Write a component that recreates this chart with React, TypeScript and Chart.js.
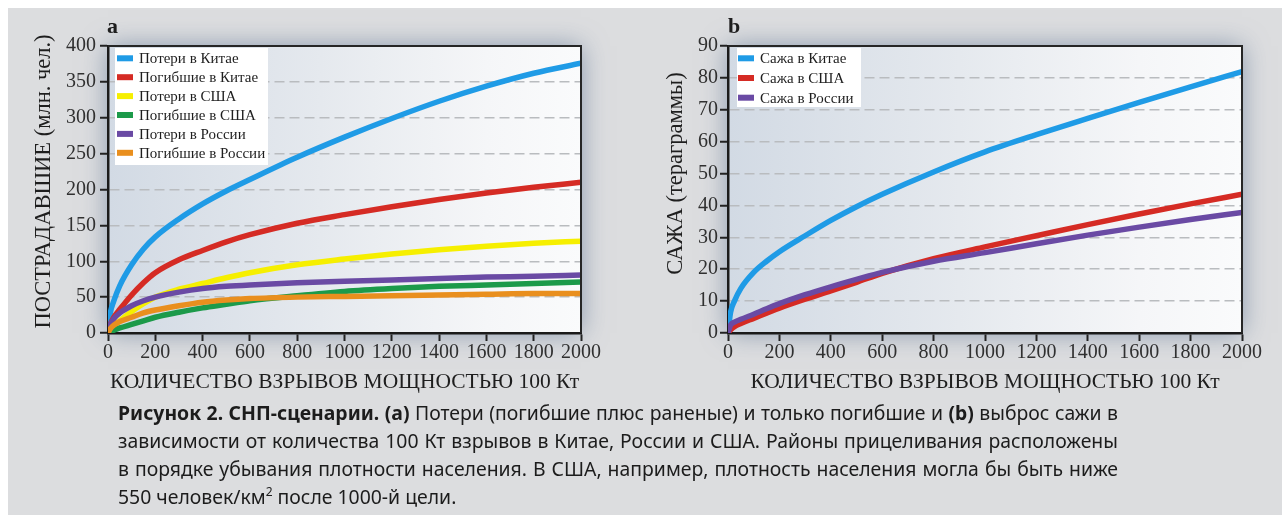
import React, { useEffect, useRef } from "react";
import { Chart, registerables } from "chart.js";

Chart.register(...registerables);

// ---------- data ----------
const X_POINTS = [0, 10, 25, 50, 100, 150, 200, 300, 400, 500, 600, 800, 1000, 1200, 1400, 1600, 1800, 2000];
const X_TICKS = [0, 200, 400, 600, 800, 1000, 1200, 1400, 1600, 1800, 2000];
const Y_TICKS_A = [0, 50, 100, 150, 200, 250, 300, 350, 400];
const Y_TICKS_B = [0, 10, 20, 30, 40, 50, 60, 70, 80, 90];

// Panel a: people affected (millions)
const CHINA_CASUALTIES = [0, 28, 45, 66, 95, 117, 134, 159, 180, 198, 214, 245, 273, 299, 323, 344, 362, 376];
const CHINA_FATALITIES = [0, 12, 22, 33, 53, 70, 84, 102, 115, 127, 137, 153, 165, 176, 186, 195, 203, 210];
const USA_CASUALTIES = [0, 4, 9, 17, 30, 41, 50, 61, 69, 77, 84, 95, 103, 110, 116, 121, 125, 128];
const USA_FATALITIES = [0, 2, 4, 7, 12, 17, 22, 29, 35, 40, 45, 52, 58, 62, 65, 67, 69, 71];
const RUSSIA_CASUALTIES = [0, 12, 20, 28, 38, 45, 50, 57, 62, 65, 67, 70, 72, 74, 76, 78, 79, 81];
const RUSSIA_FATALITIES = [0, 6, 11, 16, 22, 28, 32, 38, 43, 46, 48, 50, 51, 52, 53, 54, 55, 55];

// Panel b: soot (teragrams)
const CHINA_SOOT = [0, 6.5, 10, 14, 19, 22.5, 25.5, 30.5, 35.3, 39.6, 43.5, 50.5, 56.8, 62.2, 67.3, 72.3, 77.2, 82];
const USA_SOOT = [0, 1, 2, 3, 4.6, 6.2, 7.8, 10.6, 13.2, 15.9, 18.7, 23.3, 27, 30.5, 34, 37.3, 40.5, 43.5];
const RUSSIA_SOOT = [0, 2.5, 3.4, 4.3, 5.9, 7.6, 9.2, 12, 14.5, 16.8, 19, 22.5, 25.2, 28, 30.7, 33.2, 35.6, 37.8];

const LABELS_A = ["Потери в Китае", "Погибшие в Китае", "Потери в США", "Погибшие в США", "Потери в России", "Погибшие в России"];
const SERIES_A = [CHINA_CASUALTIES, CHINA_FATALITIES, USA_CASUALTIES, USA_FATALITIES, RUSSIA_CASUALTIES, RUSSIA_FATALITIES];
const COLORS_A = ["#1f9be6", "#d52b24", "#f6ef00", "#1c9a4a", "#6a4aa4", "#e98f1e"];

const LABELS_B = ["Сажа в Китае", "Сажа в США", "Сажа в России"];
const SERIES_B = [CHINA_SOOT, USA_SOOT, RUSSIA_SOOT];
const COLORS_B = ["#1f9be6", "#d52b24", "#6a4aa4"];

const X_TITLE = "КОЛИЧЕСТВО ВЗРЫВОВ МОЩНОСТЬЮ 100 Кт";
const Y_TITLE_A = "ПОСТРАДАВШИЕ (млн. чел.)";
const Y_TITLE_B = "САЖА (тераграммы)";

const SERIF = "'Liberation Serif', 'Times New Roman', serif";

type Cfg = {
  key: string;
  letter: string;
  letterX: number;
  yTitle: string;
  yTitleX: number;
  yTitleY: number;
  legendBox: [number, number, number, number];
  swatchX: number;
  textX: number;
  rowY0: number;
  rowStep: number;
};

function decorPlugin(cfg: Cfg) {
  return {
    id: "decor" + cfg.key,
    beforeDraw(chart: any) {
      const { ctx, chartArea: a } = chart;
      ctx.save();
      const g = ctx.createLinearGradient(a.left, 0, a.right, 0);
      g.addColorStop(0, "#d2dae4");
      g.addColorStop(0.45, "#e5e9ee");
      g.addColorStop(0.8, "#f5f6f8");
      g.addColorStop(1, "#fafbfc");
      ctx.shadowColor = "rgba(80,105,140,0.6)";
      ctx.shadowBlur = 24;
      ctx.fillStyle = g;
      ctx.fillRect(a.left, a.top, a.right - a.left, a.bottom - a.top);
      ctx.restore();
    },
    afterDatasetsDraw(chart: any) {
      const { ctx, chartArea: a } = chart;
      ctx.save();
      ctx.strokeStyle = "#262626";
      ctx.lineWidth = 2;
      ctx.beginPath();
      ctx.moveTo(a.left, a.top);
      ctx.lineTo(a.right, a.top);
      ctx.lineTo(a.right, a.bottom);
      ctx.stroke();
      const [bx, by, bw, bh] = cfg.legendBox;
      ctx.fillStyle = "#ffffff";
      ctx.fillRect(bx, by, bw, bh);
      ctx.font = `15px ${SERIF}`;
      ctx.textBaseline = "middle";
      ctx.textAlign = "left";
      chart.data.datasets.forEach((ds: any, i: number) => {
        const cy = cfg.rowY0 + i * cfg.rowStep;
        ctx.fillStyle = ds.borderColor;
        ctx.fillRect(cfg.swatchX, cy - 3, 16, 6);
        ctx.fillStyle = "#1e1e1e";
        ctx.fillText(ds.label, cfg.textX, cy + 1);
      });
      ctx.restore();
    },
    afterDraw(chart: any) {
      const { ctx } = chart;
      ctx.save();
      ctx.fillStyle = "#1e1e1e";
      ctx.font = `22.5px ${SERIF}`;
      ctx.textAlign = "center";
      ctx.textBaseline = "middle";
      ctx.translate(cfg.yTitleX, cfg.yTitleY);
      ctx.rotate(-Math.PI / 2);
      ctx.fillText(cfg.yTitle, 0, 0);
      ctx.restore();
      ctx.save();
      ctx.fillStyle = "#1e1e1e";
      ctx.font = `bold 22px ${SERIF}`;
      ctx.textAlign = "left";
      ctx.textBaseline = "alphabetic";
      ctx.fillText(cfg.letter, cfg.letterX, 25);
      ctx.restore();
    },
  };
}

function buildConfig(
  labels: string[],
  series: number[][],
  colors: string[],
  yTicks: number[],
  padRight: number,
  yPad: number,
  cfg: Cfg
): any {
  const n = series.length;
  return {
    type: "line",
    data: {
      datasets: series.map((s, i) => ({
        label: labels[i],
        data: s.map((v, j) => ({ x: X_POINTS[j], y: v })),
        borderColor: colors[i],
        backgroundColor: colors[i],
        borderWidth: 5.5,
        pointRadius: 0,
        cubicInterpolationMode: "monotone",
        fill: false,
        order: n - i,
      })),
    },
    options: {
      responsive: false,
      animation: false,
      devicePixelRatio: 1,
      layout: { padding: { left: 0, top: 38, right: padRight, bottom: 0 } },
      plugins: { legend: { display: false }, tooltip: { enabled: false }, title: { display: false } },
      scales: {
        x: {
          type: "linear",
          min: 0,
          max: 2000,
          afterBuildTicks: (s: any) => {
            s.ticks = X_TICKS.map((v) => ({ value: v }));
          },
          afterFit: (s: any) => {
            s.height = 75;
          },
          grid: { drawOnChartArea: false, drawTicks: true, tickLength: 8, tickWidth: 2, tickColor: "#222" },
          border: { display: true, color: "#1a1a1a", width: 2.5 },
          ticks: {
            font: { family: SERIF, size: 20 },
            color: "#303030",
            padding: 0,
            maxRotation: 0,
            autoSkip: false,
            callback: (v: any) => String(v),
          },
          title: {
            display: true,
            text: X_TITLE,
            font: { family: SERIF, size: 21.5 },
            color: "#1e1e1e",
            padding: { top: 0, bottom: 13 },
          },
        },
        y: {
          type: "linear",
          min: yTicks[0],
          max: yTicks[yTicks.length - 1],
          afterBuildTicks: (s: any) => {
            s.ticks = yTicks.map((v) => ({ value: v }));
          },
          afterFit: (s: any) => {
            s.width = 100;
          },
          grid: {
            drawOnChartArea: true,
            drawTicks: true,
            tickLength: 8,
            tickWidth: 2,
            tickColor: "#222",
            lineWidth: 1.5,
            color: (c: any) => {
              const v = c.tick && c.tick.value;
              return v === yTicks[0] || v === yTicks[yTicks.length - 1] ? "rgba(0,0,0,0)" : "#b9bcbf";
            },
          },
          border: { display: true, color: "#1a1a1a", width: 2.5, dash: [10, 5] },
          ticks: {
            font: { family: SERIF, size: 20 },
            color: "#303030",
            padding: yPad,
            autoSkip: false,
            callback: (v: any) => String(v),
          },
        },
      },
    },
    plugins: [decorPlugin(cfg)],
  };
}

export default function App() {
  const refA = useRef<HTMLCanvasElement | null>(null);
  const refB = useRef<HTMLCanvasElement | null>(null);

  useEffect(() => {
    const chartA = new Chart(
      refA.current as HTMLCanvasElement,
      buildConfig(LABELS_A, SERIES_A, COLORS_A, Y_TICKS_A, 47, 4, {
        key: "a",
        letter: "a",
        letterX: 99,
        yTitle: Y_TITLE_A,
        yTitleX: 36,
        yTitleY: 173.5,
        legendBox: [107, 40, 153, 117],
        swatchX: 109,
        textX: 131,
        rowY0: 50.3,
        rowStep: 18.9,
      })
    );
    const chartB = new Chart(
      refB.current as HTMLCanvasElement,
      buildConfig(LABELS_B, SERIES_B, COLORS_B, Y_TICKS_B, 40, 2, {
        key: "b",
        letter: "b",
        letterX: 100,
        yTitle: Y_TITLE_B,
        yTitleX: 48,
        yTitleY: 165.5,
        legendBox: [109, 40, 124, 59],
        swatchX: 110,
        textX: 132,
        rowY0: 50.3,
        rowStep: 19.7,
      })
    );
    return () => {
      chartA.destroy();
      chartB.destroy();
    };
  }, []);

  const captionFont = "'Noto Sans', 'Open Sans', sans-serif";
  const lineStyle: React.CSSProperties = {
    height: 28,
    lineHeight: "28px",
    whiteSpace: "nowrap",
    textAlign: "justify",
    textAlignLast: "justify" as any,
  };

  return (
    <div
      style={{
        position: "fixed",
        left: 8,
        top: 8,
        width: 1274,
        height: 507,
        background: "#dcdddf",
        overflow: "hidden",
      }}
    >
      <canvas ref={refA} width={620} height={400} style={{ position: "absolute", left: 0, top: 0 }} />
      <canvas ref={refB} width={654} height={400} style={{ position: "absolute", left: 620, top: 0 }} />
      <div
        style={{
          position: "absolute",
          left: 110,
          top: 391,
          width: 1000,
          fontFamily: captionFont,
          fontSize: 19.4,
          color: "#1c1c1c",
        }}
      >
        <div style={lineStyle}>
          <b>Рисунок 2. СНП-сценарии. (a)</b> Потери (погибшие плюс раненые) и только погибшие и <b>(b)</b> выброс сажи в
        </div>
        <div style={lineStyle}>
          зависимости от количества 100 Кт взрывов в Китае, России и США. Районы прицеливания расположены
        </div>
        <div style={lineStyle}>
          в порядке убывания плотности населения. В США, например, плотность населения могла бы быть ниже
        </div>
        <div style={{ ...lineStyle, textAlign: "left", textAlignLast: "left" as any }}>
          550 человек/км<sup style={{ fontSize: 12, lineHeight: 0, verticalAlign: "8px" }}>2</sup> после 1000-й цели.
        </div>
      </div>
    </div>
  );
}
